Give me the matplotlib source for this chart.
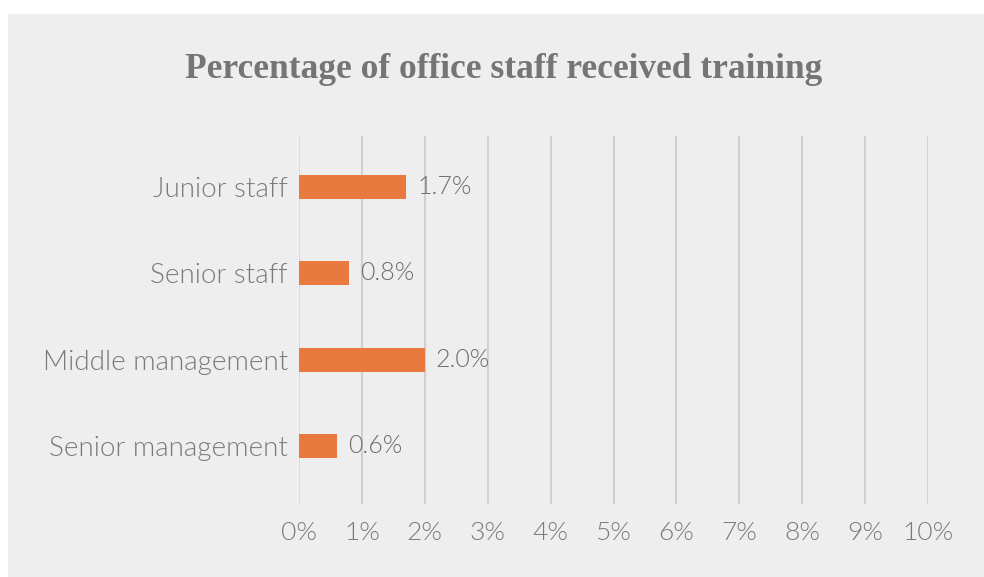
import matplotlib
matplotlib.use("Agg")
import matplotlib.pyplot as plt
from matplotlib.patches import Rectangle

categories = ["Junior staff", "Senior staff", "Middle management", "Senior management"]
values = [1.7, 0.8, 2.0, 0.6]
xticks = [0, 1, 2, 3, 4, 5, 6, 7, 8, 9, 10]
xtick_labels = [f"{t}%" for t in xticks]
title = "Percentage of office staff received training"

BG = "#eeeeee"
BAR = "#e8793f"
TXT = "#7a7a7a"
LBL = "#6e6e6e"
sans = ["Lato", "DejaVu Sans"]
W = 300

fig = plt.figure(figsize=(9.84, 5.77), dpi=100)
fig.patch.set_facecolor("white")
fig.patches.append(Rectangle((8 / 984, 0), 1, 1 - 14 / 577, transform=fig.transFigure,
                             facecolor=BG, edgecolor="none", zorder=-10))

ax = fig.add_axes([299 / 984, 1 - 504 / 577, 629 / 984, 368 / 577])
ax.set_facecolor(BG)
ax.patch.set_alpha(0)

ypos = list(range(len(categories)))
ax.barh(ypos, values, height=0.278, color=BAR, zorder=3)
ax.set_xlim(0, 10)
ax.set_ylim(3.672, -0.591)

for x in xticks:
    ax.axvline(x, color="#dcdcdc" if x == 0 else "#d0d0d0", lw=1.5, zorder=1)

ax.set_xticks(xticks)
ax.set_xticklabels(xtick_labels, fontfamily=sans, fontweight=W, fontsize=19, color=TXT)
ax.set_yticks(ypos)
ax.set_yticklabels(categories, fontfamily=sans, fontweight=W, fontsize=20, color=TXT)
ax.tick_params(axis="x", length=0, pad=12)
ax.tick_params(axis="y", length=0, pad=8)
for s in ax.spines.values():
    s.set_visible(False)

for y, v in zip(ypos, values):
    ax.annotate(f"{v:.1f}%", (v, y), xytext=(8, 0), textcoords="offset points",
                va="center", ha="left", fontfamily=sans, fontweight=W,
                fontsize=18, color=LBL, zorder=4)

fig.text(504 / 984, 1 - 70 / 577, title, ha="center", va="center",
         fontfamily=["Liberation Serif", "DejaVu Serif"], fontweight="bold",
         fontsize=25.5, color="#757575")

fig.savefig("out.png", dpi=100, facecolor=fig.get_facecolor())
